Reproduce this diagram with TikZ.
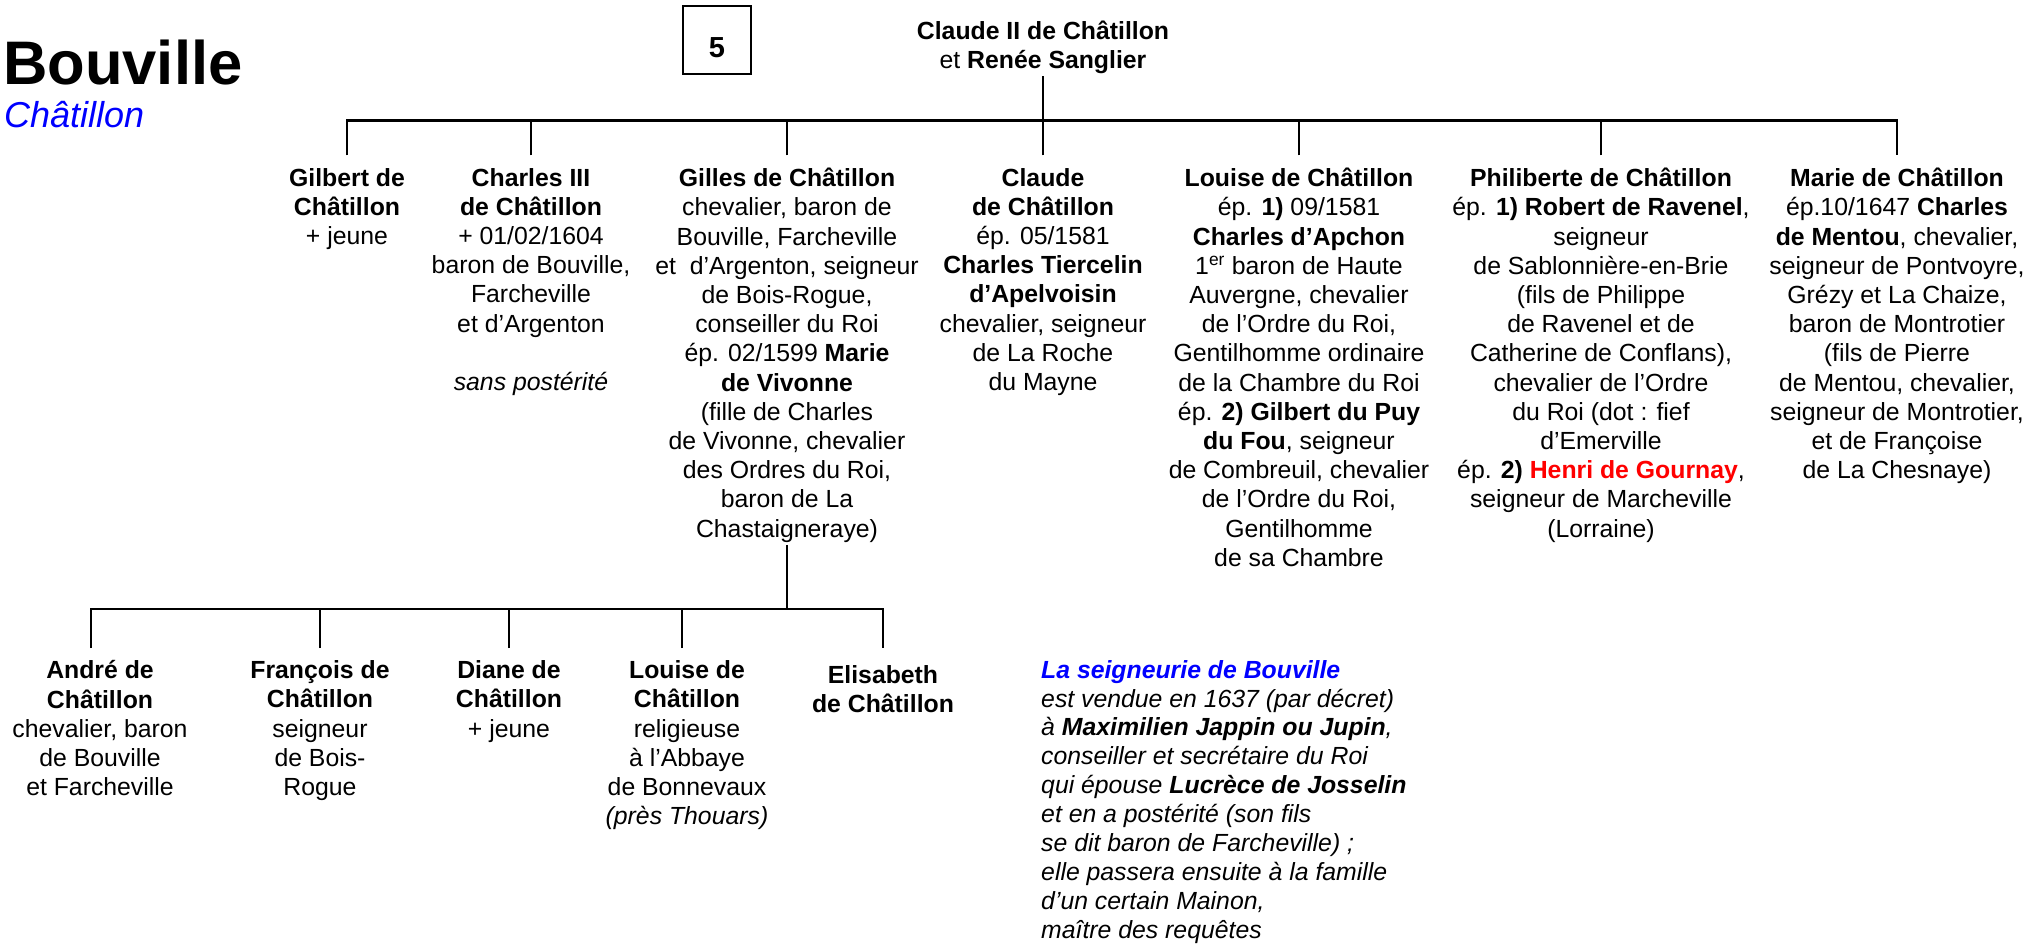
\documentclass[tikz,border=0pt]{standalone}
\usepackage{fontspec}
\setmainfont{Liberation Sans}
\usetikzlibrary{calc}
\definecolor{tblue}{RGB}{0,0,255}
\definecolor{tred}{RGB}{255,0,0}
\begin{document}
\begin{tikzpicture}[x=1pt,y=-1pt,
  txt/.style={font=\fontsize{24.8}{29.2}\selectfont, align=center, inner xsep=0pt, inner ysep=12.5pt, anchor=north},
  link/.style={line width=2.8pt, line join=miter}]
\useasboundingbox (0,0) rectangle (2032,944);
% titles
\node[font=\fontsize{61.5}{72}\selectfont\bfseries, anchor=base west, inner sep=0pt] (title) at (3,85) {Bouville};
\node[font=\fontsize{36}{43}\selectfont\itshape, text=tblue, anchor=base west, inner sep=0pt] (sub) at (4,128) {Châtillon};
\node[draw, line width=1.4pt, minimum width=68pt, minimum height=68pt, inner sep=0pt] (num) at (717,40) {};
\node[font=\fontsize{29}{34}\selectfont\bfseries, anchor=base, inner sep=0pt] (five) at (num.center |- 0,58) {5};
% root
\node[txt, inner ysep=2pt] (root) at (1043,19) {\textbf{Claude II de Châtillon}\\et \textbf{Renée Sanglier}};
% first generation
\node[txt] (c1) at (347,155.5) {\textbf{Gilbert de}\\\textbf{Châtillon}\\+ jeune};
\node[txt] (c2) at (531,155.5) {\textbf{Charles III}\\\textbf{de Châtillon}\\+ 01/02/1604\\baron de Bouville,\\Farcheville\\et d’Argenton\\[29.2pt]\textit{sans postérité}};
\node[txt] (c3) at (787,155.5) {\textbf{Gilles de Châtillon}\\chevalier, baron de\\Bouville, Farcheville\\et~~d’Argenton, seigneur\\de Bois-Rogue,\\conseiller du Roi\\ép. 02/1599 \textbf{Marie}\\\textbf{de Vivonne}\\(fille de Charles\\de Vivonne, chevalier\\des Ordres du Roi,\\baron de La\\Chastaigneraye)};
\node[txt] (c4) at (1043,155.5) {\textbf{Claude}\\\textbf{de Châtillon}\\ép. 05/1581\\\textbf{Charles Tiercelin}\\\textbf{d’Apelvoisin}\\chevalier, seigneur\\de La Roche\\du Mayne};
\node[txt] (c5) at (1299,155.5) {\textbf{Louise de Châtillon}\\ép. \textbf{1)} 09/1581\\\textbf{Charles d’Apchon}\\1\textsuperscript{er} baron de Haute\\Auvergne, chevalier\\de l’Ordre du Roi,\\Gentilhomme ordinaire\\de la Chambre du Roi\\ép. \textbf{2) Gilbert du Puy}\\\textbf{du Fou}, seigneur\\de Combreuil, chevalier\\de l’Ordre du Roi,\\Gentilhomme\\de sa Chambre};
\node[txt] (c6) at (1601,155.5) {\textbf{Philiberte de Châtillon}\\ép. \textbf{1) Robert de Ravenel},\\seigneur\\de Sablonnière-en-Brie\\(fils de Philippe\\de Ravenel et de\\Catherine de Conflans),\\chevalier de l’Ordre\\du Roi (dot : fief\\d’Emerville\\ép. \textbf{2)} \textcolor{tred}{\textbf{Henri de Gournay}},\\seigneur de Marcheville\\(Lorraine)};
\node[txt] (c7) at (1897,155.5) {\textbf{Marie de Châtillon}\\ép.10/1647 \textbf{Charles}\\\textbf{de Mentou}, chevalier,\\seigneur de Pontvoyre,\\Grézy et La Chaize,\\baron de Montrotier\\(fils de Pierre\\de Mentou, chevalier,\\seigneur de Montrotier,\\et de Françoise\\de La Chesnaye)};
% second generation
\node[txt] (g1) at (100,648) {\textbf{André de}\\\textbf{Châtillon}\\chevalier, baron\\de Bouville\\et Farcheville};
\node[txt] (g2) at (320,648) {\textbf{François de}\\\textbf{Châtillon}\\seigneur\\de Bois-\\Rogue};
\node[txt] (g3) at (509,648) {\textbf{Diane de}\\\textbf{Châtillon}\\+ jeune};
\node[txt] (g4) at (687,648) {\textbf{Louise de}\\\textbf{Châtillon}\\religieuse\\à l’Abbaye\\de Bonnevaux\\\textit{(près Thouars)}};
\node[txt, inner ysep=17.5pt] (g5) at (883,648) {\textbf{Elisabeth}\\\textbf{de Châtillon}};
% note
\node[font=\fontsize{24.8}{28.9}\selectfont\itshape, align=left, anchor=north west, inner sep=0pt] (note) at (1041,660) {\textcolor{tblue}{\textbf{La seigneurie de Bouville}}\\est vendue en 1637 (par décret)\\à \textbf{Maximilien Jappin ou Jupin},\\conseiller et secrétaire du Roi\\qui épouse \textbf{Lucrèce de Josselin}\\et en a postérité (son fils\\se dit baron de Farcheville) ;\\elle passera ensuite à la famille\\d’un certain Mainon,\\maître des requêtes};
% connectors
\coordinate (j1) at (1043,120.5);
\draw[link] (root.south) -- (j1);
\draw[link] (c1.north) -- (c1.north |- j1) -- (c7.north |- j1) -- (c7.north);
\foreach \n in {c2,c3,c4,c5,c6} \draw[link] (\n.north) -- (\n.north |- j1);
\coordinate (j2) at (787,609);
\draw[link] ([yshift=10pt]c3.south) -- (j2);
\draw[link] ([xshift=-9pt]g1.north) -- ([xshift=-9pt]g1.north |- j2) -- (g5.north |- j2) -- (g5.north);
\draw[link] (g2.north) -- (g2.north |- j2);
\draw[link] (g3.north) -- (g3.north |- j2);
\draw[link] ([xshift=-5pt]g4.north) -- ([xshift=-5pt]g4.north |- j2);
\end{tikzpicture}
\end{document}
